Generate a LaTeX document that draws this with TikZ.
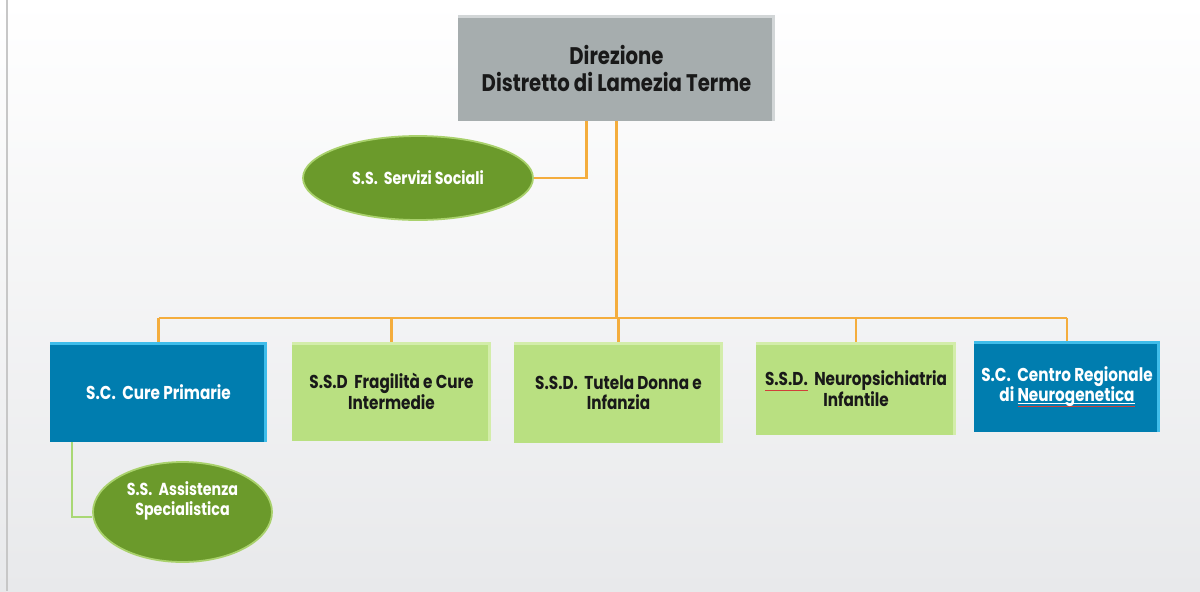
\documentclass[tikz,border=0pt]{standalone}
\usepackage{fontspec}
\setmainfont{Poppins}[FakeStretch=0.82]
\usetikzlibrary{shapes.geometric,calc}

\definecolor{bgbottom}{HTML}{E8E9EB}
\definecolor{dirgray}{HTML}{A6ADAE}
\definecolor{dirlight}{HTML}{D2D6D7}
\definecolor{scblue}{HTML}{007DAF}
\definecolor{sclight}{HTML}{3FBDEA}
\definecolor{ssdgreen}{HTML}{B9E081}
\definecolor{ssdlight}{HTML}{D3EDAA}
\definecolor{ssgreen}{HTML}{6B9A2B}
\definecolor{ssrim}{HTML}{A9D16C}
\definecolor{linkorange}{HTML}{F4AD3D}
\definecolor{linkgreen}{HTML}{A9D875}
\definecolor{spellred}{HTML}{D0403A}

% word marked by the spell checker
\newcommand\spellmark[1]{\setbox0=\hbox{#1}\rlap{\color{spellred}\raisebox{-2.4pt}{\rule{\wd0}{0.45pt}}}\box0}
\newcommand\linkword[1]{\setbox0=\hbox{#1}\rlap{\raisebox{-1.2pt}{\rule{\wd0}{0.4pt}}}\rlap{\color{spellred}\raisebox{-2.6pt}{\rule{\wd0}{0.45pt}}}\box0}

\tikzset{
  bevel/.style={path picture={
      \fill[#1] (path picture bounding box.north west) rectangle
        ([yshift=-1.6pt]path picture bounding box.north east);
      \fill[#1] ([xshift=-1.3pt]path picture bounding box.north east) rectangle
        (path picture bounding box.south east);}},
  unitbox/.style={rectangle, inner sep=2pt, align=center, font=\fontsize{9.3}{10.2}\selectfont\bfseries},
  headbox/.style={unitbox, fill=dirgray, bevel=dirlight, text=black!90,
      font=\fontsize{12}{13.5}\selectfont\bfseries},
  scbox/.style={unitbox, fill=scblue, bevel=sclight, text=white},
  ssdbox/.style={unitbox, fill=ssdgreen, bevel=ssdlight, text=black!90},
  ssoval/.style={ellipse, inner sep=0pt, fill=ssgreen, draw=ssrim, line width=0.9pt,
      text=white, align=center, font=\fontsize{8.7}{10}\selectfont\bfseries},
  conn/.style={draw=linkorange, line width=1.1pt},
  subconn/.style={draw=linkgreen, line width=1.1pt},
}

\begin{document}
\begin{tikzpicture}[x=0.5pt,y=-0.5pt]
  % page background
  \shade[top color=white, bottom color=bgbottom] (0,0) rectangle (1200,591);
  \useasboundingbox (0,0) rectangle (1200,591);
  \draw[black!22, line width=0.9pt] (7,0) -- (7,591);

  % management
  \node[headbox, minimum width=158.5pt, minimum height=53pt] (dir) at (616.5,68)
    {Direzione\\Distretto di Lamezia Terme};

  % staff unit
  \node[ssoval, minimum width=115pt, minimum height=42pt] (soc) at (418,178)
    {S.S.~ Servizi Sociali};

  % operating units
  \node[scbox, minimum width=108.5pt, minimum height=50pt] (cp) at (158.5,392)
    {S.C.~ Cure Primarie};
  \node[ssdbox, minimum width=99.5pt, minimum height=49.5pt] (fr) at (391.5,391.5)
    {S.S.D~ Fragilità e Cure\\Intermedie};
  \node[ssdbox, minimum width=104.5pt, minimum height=50.5pt] (tu) at (618.5,392.5)
    {S.S.D.~ Tutela Donna e\\Infanzia};
  \node[ssdbox, minimum width=100pt, minimum height=46.5pt] (np) at (856,388.5)
    {\spellmark{S.S.D.}~ Neuropsichiatria\\Infantile};
  \node[scbox, minimum width=93pt, minimum height=45.5pt] (cr) at (1067,386.5)
    {S.C.~ Centro Regionale\\di \linkword{Neurogenetica}};

  % sub-unit of primary care
  \node[ssoval, minimum width=89.5pt, minimum height=50pt] (ass) at (182.5,512)
    {S.S.~ Assistenza\\Specialistica\\[3pt]};

  % connectors
  \coordinate (bus) at (616.5,318);
  \draw[conn] ([xshift=-15pt]dir.south) |- (soc.east);
  \draw[conn] (dir.south) -- (bus);
  \draw[conn] (cp.north |- bus) -- (cr.north |- bus);
  \foreach \u in {cp,fr,tu,np,cr}
    \draw[conn] (\u.north |- bus) -- (\u.north);
  \draw[subconn] ([xshift=11pt]cp.south west) |- ([yshift=-2.5pt]ass.west);
\end{tikzpicture}
\end{document}
